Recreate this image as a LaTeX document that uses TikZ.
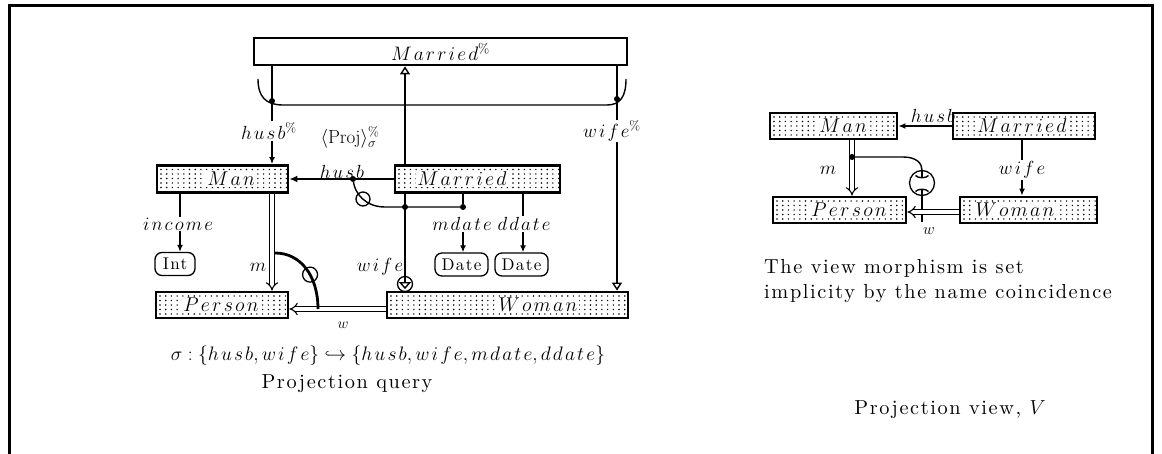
\RequirePackage{fix-cm}
\documentclass[tikz,border=0pt]{standalone}
\usepackage{fontspec}
\newfontfamily\sprm{lmroman10-regular.otf}[LetterSpace=8]
\usetikzlibrary{arrows.meta,calc}
\makeatletter
\def\mw#1{\mw@a#1\mw@end}
\def\mw@a#1#2{#1\ifx\mw@end#2\expandafter\@gobble\else\expandafter\@firstofone\fi{\mkern2mu\mw@a#2}}
\makeatother
\begin{document}
\begin{tikzpicture}[x=1pt,y=-1pt,
  every node/.style={font=\fontsize{20}{24}\selectfont},
  lbl/.style={inner sep=1pt, font=\fontsize{19}{22}\selectfont},
  box/.style={draw, line width=2.8pt, inner sep=0pt},
  dotbox/.style={box, path picture={
     \foreach \xx in {4,9.7,...,250}{\foreach \yy in {4,8.5,...,30}{
       \fill ([xshift=\xx pt,yshift=-\yy pt]path picture bounding box.north west) circle[radius=0.8pt];}}}},
  txt/.style={fill=white, inner sep=1.5pt},
  rbox/.style={draw, line width=1.3pt, rounded corners=7pt, inner sep=0pt, minimum height=23pt,
     font=\fontsize{17}{20}\sprm},
  rtxt/.style={inner sep=0pt, font=\fontsize{20.3}{24}\sprm},
  thin/.style={line width=1.4pt},
  arr/.style={-{Latex[length=7pt,width=6pt]}},
  oarr/.style={-{Triangle[open,length=8pt,width=10pt]}, line width=1.4pt},
  dbl/.style={double, double distance=3.2pt, line width=1.1pt, -{Implies}},
  dot/.style={circle, fill, inner sep=0pt, minimum size=6pt},
  ring/.style={circle, draw, line width=1.3pt, inner sep=0pt}
]
\useasboundingbox (0,0) rectangle (1162,454);
\draw[line width=3pt] (9.5,454) -- (9.5,6) -- (1152.5,6) -- (1152.5,454);

\coordinate (xl) at (272,0);
\coordinate (xm) at (405,0);
\coordinate (xr) at (617,0);
\coordinate (xi) at (180,0);
\coordinate (xmd) at (463,0);
\coordinate (xdd) at (523,0);
\coordinate (wy) at (0,309);

% ---------- left diagram: boxes ----------
\node[box, minimum width=373pt, minimum height=27pt, font=\fontsize{19.5}{23}\selectfont] (T) at (440.5,51.5) {$\mw{Married}^{\%}$};
\node[dotbox, minimum width=131pt, minimum height=27pt] (Man) at (222.5,179) {};
\node[txt] (ManT) at (231,179) {$\mw{Man}$};
\node[dotbox, minimum width=165pt, minimum height=27pt] (M2) at (477.5,179) {};
\node[txt] (M2T) at (462,179) {$\mw{Married}$};
\node[dotbox, minimum width=132pt, minimum height=26pt] (Person) at (222,305) {};
\node[txt] (PersonT) at (221,305) {$\mw{Person}$};
\node[dotbox, minimum width=241pt, minimum height=26pt] (Woman) at (507.5,305) {};
\node[txt] (WomanT) at (538,305) {$\mw{Woman}$};
\node[rbox, minimum width=40pt] (Int) at (175,264) {Int};
\node[rbox, minimum width=53pt] (Date1) at (461.5,264.5) {Date};
\node[rbox, minimum width=53pt] (Date2) at (521.5,264.5) {Date};

% labels
\node[lbl] (hsp) at (269,131) {$\mw{husb}^{\%}$};
\node[lbl] (wfp) at (612,131) {$\mw{wife}^{\%}$};
\node[lbl] (proj) at (350,137) {$\langle\mathrm{Proj}\rangle^{\%}_{\sigma}$};
\node[lbl] (hl) at (342,172) {$\mw{husb}$};
\node[lbl] (inc) at (178,224) {$\mw{income}$};
\node[lbl] (md) at (462,224) {$\mw{mdate}$};
\node[lbl] (dd) at (524,224) {$\mw{ddate}$};
\node[lbl] (wl) at (380,267) {$\mw{wife}$};
\node[lbl] (ml) at (258,267) {$m$};
\node[lbl, font=\fontsize{15}{17}\selectfont] (wlab) at (343,325) {$w$};

% dots
\node[dot] (d1) at (272,101) {};
\node[dot] (d2) at (617,99) {};
\node[dot] (d3) at (353,179) {};
\node[dot] (d4) at (405,207) {};
\node[dot] (d5) at (463,207) {};
\node[dot] (d6) at (272,253) {};

% connectors
\draw[thin] (xl |- T.south) -- (xl |- hsp.north);
\draw[thin, arr] (xl |- hsp.south) -- (xl |- Man.north);
\draw[thin] (xr |- T.south) -- (xr |- wfp.north);
\draw[oarr] (xr |- wfp.south) -- (xr |- Woman.north);
\draw[thin] (258,79) .. controls (258,97) and (266,105) .. (283,105) -- (607,105) .. controls (620,105) and (626,97) .. (626,79);
\draw[oarr] (xm |- M2.north) -- (xm |- T.south);
\draw[line width=2.8pt, -{Latex[length=8pt,width=7pt]}] (M2.west) -- (Man.east);
\draw[thin] (d3) .. controls (355,193) and (365,207) .. (385,207) -- (d5);
\node[ring, minimum size=14pt] (c1) at (363,199) {};
\draw[thin, -{Triangle[open,length=7pt,width=12pt]}] (xm |- M2.south) -- ($(xm |- Woman.north)+(0,-1.5)$);
\node[ring, minimum size=15pt] (c0) at (405,284) {};
\draw[thin] (xmd |- M2.south) -- (d5);
\draw[thin, arr] (xmd |- md.south) -- (xmd |- Date1.north);
\draw[thin] (xdd |- M2.south) -- (xdd |- dd.north);
\draw[thin, arr] (xdd |- dd.south) -- (xdd |- Date2.north);
\draw[thin] (xi |- Man.south) -- (xi |- inc.north);
\draw[thin, arr] (xi |- inc.south) -- (xi |- Int.north);
\draw[dbl] (xl |- Man.south) -- (xl |- Person.north);
\draw[dbl] (Woman.west |- wy) -- (Person.east |- wy);
\draw[line width=2.8pt] (d6) .. controls (300,253) and (318,275) .. (318,309)
   node[ring, pos=0.6, minimum size=15pt] (c2) {};

% bottom texts
\node[lbl, font=\fontsize{19.5}{23}\selectfont] (sig) at (388,356)
  {$\sigma : \{\mw{husb}, \mw{wife}\} \hookrightarrow \{\mw{husb}, \mw{wife}, \mw{mdate}, \mw{ddate}\}$};
\node[rtxt] (pq) at (347,384) {Projection query};

% ---------- right diagram ----------
\coordinate (xw) at (1022,0);
\coordinate (xmr) at (852,0);
\coordinate (wyr) at (0,212);
\node[dotbox, minimum width=127pt, minimum height=26pt] (RMan) at (833.5,126) {};
\node[txt] (RManT) at (843,126) {$\mw{Man}$};
\node[dotbox, minimum width=142pt, minimum height=26pt] (RMar) at (1024,126) {};
\node[txt] (RMarT) at (1022,126) {$\mw{Married}$};
\node[dotbox, minimum width=133pt, minimum height=26pt] (RPer) at (839.5,210) {};
\node[txt] (RPerT) at (849,210) {$\mw{Person}$};
\node[dotbox, minimum width=137pt, minimum height=26pt] (RWom) at (1028.5,210) {};
\node[txt] (RWomT) at (1015,210) {$\mw{Woman}$};

\node[lbl] (hr) at (933,116) {$\mw{husb}$};
\node[lbl] (wr) at (1022,170) {$\mw{wife}$};
\node[lbl] (mr) at (828,170) {$m$};
\node[lbl, font=\fontsize{16}{18}\selectfont] (wrl) at (929,231) {$w$};

\draw[line width=1.8pt, arr] (RMar.west) -- (RMan.east);
\draw[line width=2.6pt] (xw |- RMar.south) -- (xw |- wr.north);
\draw[line width=2.6pt, arr] (xw |- wr.south) -- (xw |- RWom.north);
\draw[dbl] (xmr |- RMan.south) -- (xmr |- RPer.north);
\node[dot] (d7) at (852,157) {};
\node[ring, minimum size=25pt] (c3) at (922,183) {};
\draw[thin] (d7) -- (903,157) .. controls (916,157) and (922,163) .. (c3.north);
\draw[thin] (c3.north) -- (922,177);
\draw[thin] (915.5,175.5) .. controls (918,178.5) and (926,178.5) .. (928.5,175.5);
\draw[thin] (915.5,191.5) .. controls (918,188.5) and (926,188.5) .. (928.5,191.5);
\node[dot] (d8) at (922,212) {};
\draw[dbl] (RWom.west |- wyr) -- (RPer.east |- wyr);
\draw[thin] (922,189.5) -- (d8) -- (922,222);

\node[rtxt, anchor=west] (tv1) at (764,268) {The view morphism is set};
\node[rtxt, anchor=west] (tv2) at (764,294) {implicity by the name coincidence};
\node[rtxt] (pv) at (950,410) {Projection view, $V$};
\end{tikzpicture}
\end{document}
